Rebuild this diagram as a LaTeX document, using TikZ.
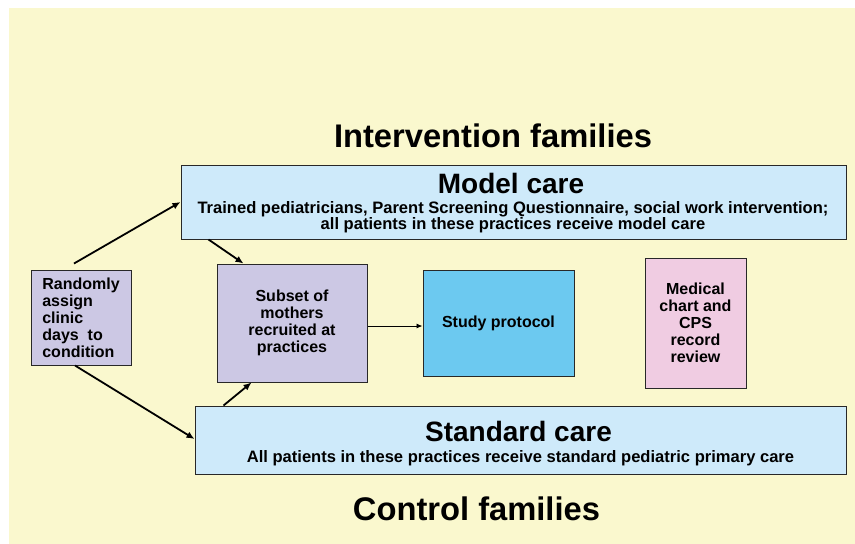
\documentclass[tikz,border=0pt]{standalone}
\usepackage{fontspec}
\setmainfont{Liberation Sans}
\usetikzlibrary{arrows.meta}
\definecolor{bgyellow}{RGB}{250,248,206}
\definecolor{carefill}{RGB}{206,234,250}
\definecolor{lavender}{RGB}{204,200,228}
\definecolor{studyblue}{RGB}{108,201,240}
\definecolor{pinkfill}{RGB}{240,204,226}
\definecolor{edge}{RGB}{40,40,40}
\tikzset{
  box/.style={draw=edge, line width=1pt, inner sep=0pt, align=center,
    font=\bfseries\fontsize{16}{17}\selectfont},
  bigtitle/.style={anchor=base, inner sep=0pt, font=\bfseries\fontsize{32.7}{36}\selectfont},
  boxtitle/.style={anchor=base, inner sep=0pt, font=\bfseries\fontsize{28}{30}\selectfont},
  boxsub/.style={anchor=base, inner sep=0pt, font=\bfseries\fontsize{16.55}{17}\selectfont},
  thickarrow/.style={line width=1.8pt, -{Latex[length=8pt,width=7pt]}},
  thinarrow/.style={line width=0.9pt, -{Latex[length=6pt,width=5pt]}}
}
\begin{document}
\begin{tikzpicture}[x=1pt,y=-1pt]
\useasboundingbox (0,0) rectangle (855,544);
\fill[bgyellow] (9,8) rectangle (855,544);

% titles
\node[bigtitle] (intv) at (493,147) {Intervention families};
\node[bigtitle] (ctrl) at (476.5,520) {Control families};

% model care box
\node[box, fill=carefill, minimum width=665pt, minimum height=74pt] (mc) at (513.5,202) {};
\node[boxtitle] (mct) at (511,193) {Model care};
\node[boxsub] (mcs1) at (513,213) {Trained pediatricians, Parent Screening Questionnaire, social work intervention;};
\node[boxsub] (mcs2) at (513,229) {all patients in these practices receive model care};

% standard care box
\node[box, fill=carefill, minimum width=651pt, minimum height=68pt] (std) at (520.5,440) {};
\node[boxtitle] (stdt) at (518.5,441) {Standard care};
\node[boxsub] (stds) at (520.5,462) {All patients in these practices receive standard pediatric primary care};

% small boxes
\node[box, fill=lavender, minimum width=100pt, minimum height=95pt, align=left] (rand) at (81,317.5)
  {Randomly\\assign\\clinic\\days\ \ to\\condition};
\node[box, fill=lavender, minimum width=150pt, minimum height=118pt] (sub) at (292,323)
  {Subset of\\mothers\\recruited at\\practices};
\node[box, fill=studyblue, minimum width=151pt, minimum height=106pt] (sp) at (498.5,323)
  {Study protocol};
\node[box, fill=pinkfill, minimum width=101pt, minimum height=130pt] (med) at (695.5,323)
  {Medical\\chart and\\CPS\\record\\review};

% connectors
\draw[thickarrow] ([xshift=-7pt,yshift=6pt]rand.north) -- (mc.west);
\draw[thickarrow] ([xshift=-6pt]rand.south) -- ([yshift=1pt]std.west);
\draw[thickarrow] ([xshift=28pt]mc.south west) -- ([xshift=27pt]sub.north west);
\draw[thickarrow] ([xshift=29pt]std.north west) -- ([xshift=35pt]sub.south west);
\draw[thinarrow] ([yshift=-3pt]sub.east) -- ([yshift=-3pt]sp.west);
\end{tikzpicture}
\end{document}
